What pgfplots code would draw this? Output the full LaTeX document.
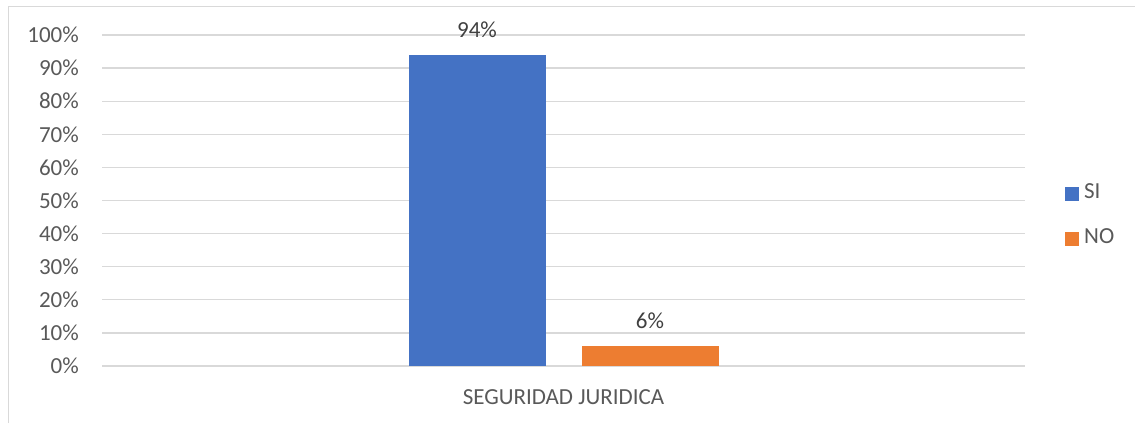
\documentclass[border=0pt]{standalone}
\usepackage{fontspec}
\setmainfont{Carlito}
\usepackage{pgfplots}
\pgfplotsset{compat=1.18}
\definecolor{siblue}{HTML}{4472C4}
\definecolor{noorange}{HTML}{ED7D31}
\definecolor{gridgray}{HTML}{D9D9D9}
\definecolor{txtgray}{HTML}{595959}
\definecolor{lblgray}{HTML}{404040}
\begin{document}
\begin{tikzpicture}[x=1pt,y=1pt]
\useasboundingbox (0,0) rectangle (1135,423);
\draw[gridgray, line width=1pt] (8.5,0) -- (8.5,416.5) -- (1135,416.5);
\begin{axis}[
  at={(102pt,57pt)}, anchor=south west,
  scale only axis, width=923pt, height=331pt,
  xmin=-1, xmax=1, ymin=0, ymax=100,
  ybar=36pt, bar width=137pt,
  axis line style={draw=none},
  ytick={0,10,...,100},
  ymajorgrids, grid style={gridgray, line width=1.3pt},
  major tick length=0pt,
  xtick={0}, xticklabels={SEGURIDAD JURIDICA},
  yticklabel={\pgfmathprintnumber{\tick}\%},
  /pgf/number format/assume math mode=true,
  tick label style={font=\fontsize{23}{27}\selectfont, text=txtgray},
  yticklabel style={anchor=east, inner sep=0pt, xshift=-23pt},
  xticklabel style={anchor=base, inner sep=0pt, yshift=-38pt},
  nodes near coords={\pgfmathprintnumber{\pgfplotspointmeta}\%},
  nodes near coords style={font=\fontsize{23}{27}\selectfont, text=lblgray, anchor=south, inner sep=0pt, yshift=17pt},
  legend style={draw=none, fill=none, at={(1.0433,0.453)}, anchor=west, inner sep=0pt,
    row sep=27pt, font=\fontsize{23}{27}\selectfont, text=txtgray,
    nodes={inner sep=0pt, text height=14pt, text depth=4pt}},
  legend cell align=left,
]
\addplot[fill=siblue, draw=none, legend image code/.code={\fill[siblue] (0pt,-7pt) rectangle (14pt,7pt); \path (19pt,0pt);}] coordinates {(0,94)};
\addplot[fill=noorange, draw=none, legend image code/.code={\fill[noorange] (0pt,-7pt) rectangle (14pt,7pt); \path (19pt,0pt);}] coordinates {(0,6)};
\legend{SI,NO}
\end{axis}
\end{tikzpicture}
\end{document}
